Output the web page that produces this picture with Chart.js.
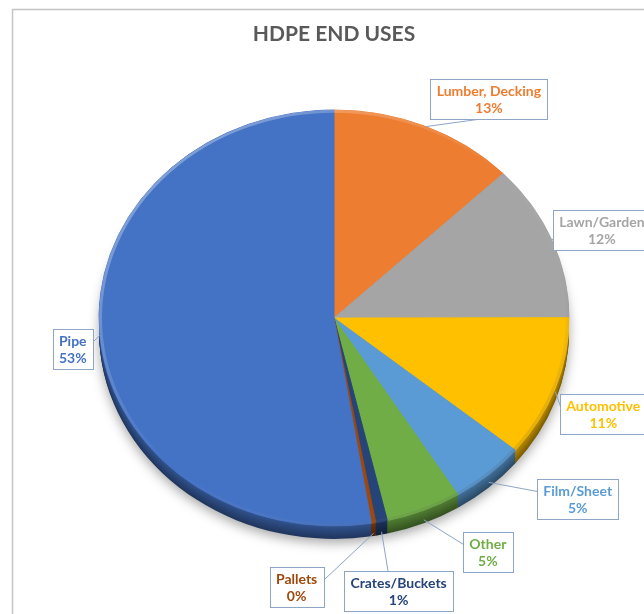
<!DOCTYPE html>
<html>
<head>
<meta charset="utf-8">
<script src="https://cdn.jsdelivr.net/npm/chart.js@4.4.1/dist/chart.umd.min.js"></script>
<style>
  html, body { margin: 0; padding: 0; background: #fff; overflow: hidden; }
  #wrap { width: 644px; height: 614px; position: relative; }
</style>
</head>
<body>
<div id="wrap"><canvas id="chart" width="644" height="614"></canvas></div>
<script>
const categories = ["Lumber, Decking", "Lawn/Garden", "Automotive", "Film/Sheet", "Other", "Crates/Buckets", "Pallets", "Pipe"];
const shares = [12.8, 12.2, 11.0, 5.2, 5.2, 0.8, 0.3, 52.6];
const sliceColors = ["#ED7D31", "#A5A5A5", "#FFC000", "#5B9BD5", "#70AD47", "#264478", "#9E480E", "#4472C4"];

// where each callout box sits, relative to its slice's rim point (layout only)
const labelOffsets = [[63, -28], [50, -10], [48, 22], [89, 17], [64, 32], [17, 59], [-77, 54], [-27, 14]];

const TILT = 0.885;   // vertical squash of the pie top
const DEPTH = 13;     // thickness of the 3d edge
const total = shares.reduce((a, b) => a + b, 0);

function shade(hex, f) {
  const n = parseInt(hex.slice(1), 16);
  const r = Math.round(((n >> 16) & 255) * f);
  const g = Math.round(((n >> 8) & 255) * f);
  const b = Math.round((n & 255) * f);
  return `rgb(${r},${g},${b})`;
}

function tilt(ctx, cy) {
  ctx.translate(0, cy);
  ctx.scale(1, TILT);
  ctx.translate(0, -cy);
}

const pie3d = {
  id: "pie3d",
  beforeDraw(chart) {
    const ctx = chart.ctx;
    ctx.save();
    ctx.fillStyle = "#fff";
    ctx.fillRect(0, 0, chart.width, chart.height);
    ctx.strokeStyle = "#C4C4C4";
    ctx.lineWidth = 1.5;
    ctx.strokeRect(12.5, 9.5, chart.width + 20, chart.height + 20);
    ctx.restore();
  },
  beforeDatasetsDraw(chart) {
    const ctx = chart.ctx;
    const arcs = chart.getDatasetMeta(0).data;
    const cy = arcs[0].y;
    // stacked copies underneath make the side of the pie
    for (let k = DEPTH; k >= 1; k--) {
      ctx.save();
      ctx.translate(0, k);
      tilt(ctx, cy);
      if (k === DEPTH) {
        ctx.shadowColor = "rgba(0,0,0,0.35)";
        ctx.shadowBlur = 12;
        ctx.shadowOffsetY = 4;
      }
      arcs.forEach((arc, i) => {
        ctx.beginPath();
        ctx.moveTo(arc.x, arc.y);
        ctx.arc(arc.x, arc.y, arc.outerRadius, arc.startAngle, arc.endAngle);
        ctx.closePath();
        ctx.fillStyle = shade(sliceColors[i], 0.74 - 0.26 * k / DEPTH);
        ctx.fill();
      });
      ctx.restore();
    }
    ctx.save();
    tilt(ctx, cy);
  },
  afterDatasetsDraw(chart) {
    const ctx = chart.ctx;
    const arcs = chart.getDatasetMeta(0).data;
    const cx = arcs[0].x, cy = arcs[0].y, R = arcs[0].outerRadius;

    // soft bevel on the rim
    const g = ctx.createLinearGradient(cx - R, cy - R, cx + R, cy + R);
    g.addColorStop(0, "rgba(255,255,255,0.45)");
    g.addColorStop(0.5, "rgba(255,255,255,0)");
    g.addColorStop(1, "rgba(0,0,0,0.22)");
    ctx.beginPath();
    ctx.arc(cx, cy, R - 1.5, 0, Math.PI * 2);
    ctx.lineWidth = 3;
    ctx.strokeStyle = g;
    ctx.stroke();
    ctx.restore();

    // callouts
    ctx.save();
    ctx.font = "bold 14px Lato";
    ctx.textAlign = "center";
    ctx.textBaseline = "middle";
    arcs.forEach((arc, i) => {
      const mid = (arc.startAngle + arc.endAngle) / 2;
      const s = Math.sin(mid);
      const ax = cx + R * Math.cos(mid);
      const ay = cy + R * s * TILT + (s > 0 ? DEPTH * s * 0.8 : 0);
      const lines = [categories[i], Math.round(shares[i] / total * 100) + "%"];
      const w = Math.ceil(Math.max(...lines.map(t => ctx.measureText(t).width))) + 12;
      const h = 40;
      const bx = ax + labelOffsets[i][0], by = ay + labelOffsets[i][1];
      const left = Math.round(bx - w / 2) + 0.5, top = Math.round(by - h / 2) + 0.5;

      const dx = (ax - bx) / (w / 2), dy = (ay - by) / (h / 2);
      let px, py;
      if (Math.abs(dy) > Math.abs(dx)) {
        py = dy < 0 ? top : top + h;
        px = Math.min(Math.max(ax, left + 0.4 * w), left + 0.6 * w);
      } else {
        px = dx < 0 ? left : left + w;
        py = Math.min(Math.max(ay, top + 0.3 * h), top + 0.7 * h);
      }
      ctx.strokeStyle = "#8EA5C6";
      ctx.lineWidth = 1;
      ctx.beginPath();
      ctx.moveTo(ax, ay);
      ctx.lineTo(px, py);
      ctx.stroke();

      ctx.fillStyle = "#fff";
      ctx.fillRect(left, top, w, h);
      ctx.strokeRect(left, top, w, h);
      ctx.fillStyle = sliceColors[i];
      ctx.fillText(lines[0], bx, top + 12);
      ctx.fillText(lines[1], bx, top + 29);
    });
    ctx.restore();
  }
};

new Chart(document.getElementById("chart"), {
  type: "pie",
  data: {
    labels: categories,
    datasets: [{
      data: shares,
      backgroundColor: sliceColors,
      borderColor: sliceColors,
      borderWidth: 1,
      radius: 235
    }]
  },
  options: {
    responsive: false,
    animation: false,
    events: [],
    layout: { padding: { left: 24, right: 0, top: 0, bottom: 25.2 } },
    plugins: {
      legend: { display: false },
      tooltip: { enabled: false },
      title: {
        display: true,
        text: "HDPE END USES",
        color: "#595959",
        font: { family: "Lato", size: 21, weight: "bold", lineHeight: 1.2 },
        padding: { top: 22, bottom: 0 }
      }
    }
  },
  plugins: [pie3d]
});
</script>
</body>
</html>
